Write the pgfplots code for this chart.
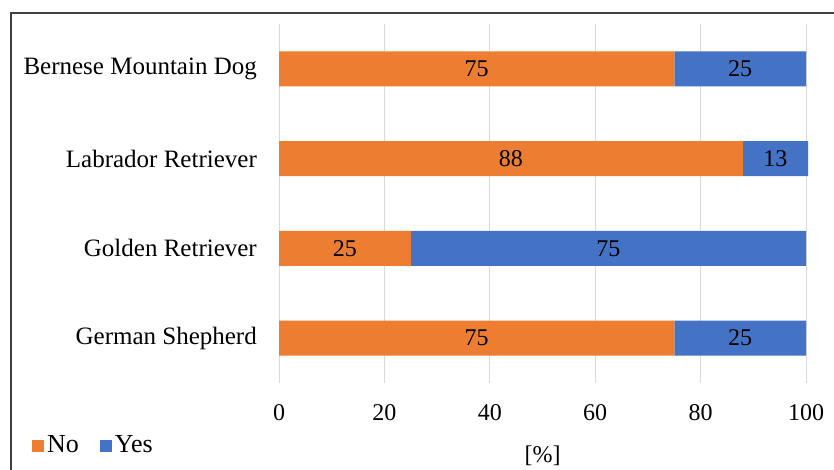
\documentclass[border=0pt]{standalone}
\usepackage{pgfplots}
\pgfplotsset{compat=1.18}
\usepackage{pgfplotstable}
\usepackage{fontspec}
\setmainfont{Liberation Serif}
\definecolor{cno}{HTML}{ED7D31}
\definecolor{cyes}{HTML}{4472C4}
\definecolor{cgrid}{HTML}{D9D9D9}
\definecolor{cborder}{HTML}{404040}
\pgfplotstableread{
idx val lab
0 75 75
1 25 25
2 88 88
3 75 75
}\nodata
\pgfplotstableread{
idx val lab
0 25 25
1 75 75
2 12.4 13
3 25 25
}\yesdata
\begin{document}
\fontsize{24}{28}\selectfont
\begin{tikzpicture}
\path[use as bounding box] (0pt,0pt) rectangle (834pt,470pt);
\draw[cborder, line width=1.2pt] (11pt,0pt) -- (11pt,457pt) -- (834pt,457pt);
\begin{axis}[
  at={(279pt,87pt)}, anchor=south west,
  scale only axis, width=527pt, height=359pt,
  xbar stacked, bar width=35pt,
  xmin=0, xmax=100, ymin=-0.5, ymax=3.5,
  clip=false,
  axis line style={draw=none},
  major tick length=0pt,
  xtick={0,20,40,60,80,100},
  ytick={0,1,2,3},
  yticklabels={German Shepherd, Golden Retriever, Labrador Retriever, Bernese Mountain Dog},
  xmajorgrids, major grid style={cgrid, line width=1pt},
  /pgf/number format/assume math mode=true,
  xticklabel style={anchor=north, inner sep=0pt, yshift=-21pt},
  yticklabel style={anchor=east, inner sep=0pt, xshift=-22pt, font=\fontsize{25}{29}\selectfont},
  xlabel={[\%]},
  xlabel style={at={(axis description cs:0.5,0)}, anchor=center, yshift=-73pt},
  point meta=explicit symbolic,
  nodes near coords,
  every node near coord/.append style={anchor=center, inner sep=0pt, text=black},
  legend columns=2,
  legend style={at={(-0.4687,-0.1755)}, anchor=west, draw=none, fill=none, inner sep=0pt,
    font=\fontsize{26}{30}\selectfont,
    nodes={inner sep=3pt},
    /tikz/every even column/.append style={column sep=18pt}},
  legend image code/.code={\fill[#1,draw=none] (0pt,-6pt) rectangle (12pt,6pt);},
]
\addplot[fill=cno, draw=none] table[x=val, y=idx, meta=lab] {\nodata};
\addplot[fill=cyes, draw=none] table[x=val, y=idx, meta=lab] {\yesdata};
\legend{No, Yes}
\end{axis}
\end{tikzpicture}
\end{document}
